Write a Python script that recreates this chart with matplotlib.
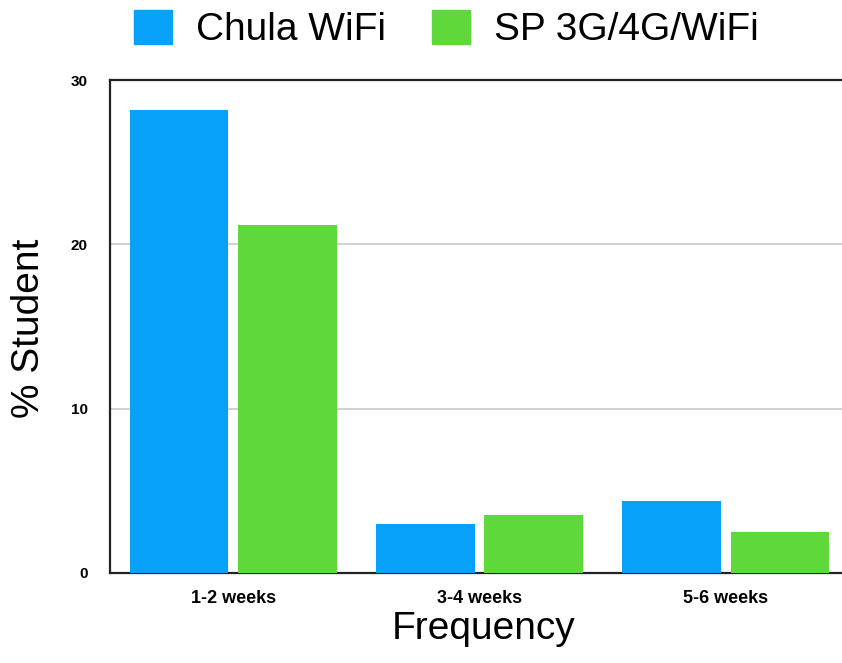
import matplotlib
matplotlib.use("Agg")
import matplotlib.pyplot as plt
import numpy as np
from matplotlib.patches import Patch

categories = ["1-2 weeks", "3-4 weeks", "5-6 weeks"]
series_names = ["Chula WiFi", "SP 3G/4G/WiFi"]
chula = [28.2, 3.0, 4.4]
sp = [21.2, 3.5, 2.5]
yticks = [0, 10, 20, 30]
colors = ["#07A1FA", "#5FD83B"]

plt.rcParams['font.family'] = ['Liberation Sans', 'DejaVu Sans']

W, H = 842, 663
fig = plt.figure(figsize=(W / 100, H / 100), dpi=100)
ax = fig.add_axes([110 / W, (H - 573) / H, (849 - 110) / W, (573 - 80) / H])

x = np.arange(len(categories))
bw = 0.4
off = 0.22
ax.bar(x - off, chula, width=bw, color=colors[0], zorder=3)
ax.bar(x + off, sp, width=bw, color=colors[1], zorder=3)

ax.set_xlim(-0.5, len(categories) - 0.5)
ax.set_ylim(0, 30)
ax.set_yticks(yticks)
ax.set_yticklabels([str(v) for v in yticks], fontsize=11, fontweight='bold')
ax.set_xticks(x)
ax.set_xticklabels(categories, fontsize=13, fontweight='bold')
ax.tick_params(axis='both', length=0)
ax.tick_params(axis='y', pad=16)
ax.tick_params(axis='x', pad=12)

for v in [10, 20]:
    ax.axhline(v, color='#c8c8c8', lw=1.2, zorder=1)

for s in ['left', 'bottom', 'top']:
    ax.spines[s].set_color('#222222')
    ax.spines[s].set_linewidth(1.6)
ax.spines['right'].set_visible(False)

ax.set_xlabel("Frequency", fontsize=28)
ax.xaxis.set_label_coords(0.505, -0.077)
ax.set_ylabel("% Student", fontsize=28)
ax.yaxis.set_label_coords(-0.085, 0.497)

handles = [Patch(color=c) for c in colors]
fs = 28
px = fs * 100 / 72
fig.legend(handles, series_names, loc='center left',
           bbox_to_anchor=(134 / W, 1 - 29 / H), ncol=2, frameon=False,
           fontsize=fs, handlelength=38 / px, handleheight=38 / px,
           handletextpad=24 / px, columnspacing=46 / px,
           borderpad=0, borderaxespad=0)

fig.savefig("out.png", dpi=100)
